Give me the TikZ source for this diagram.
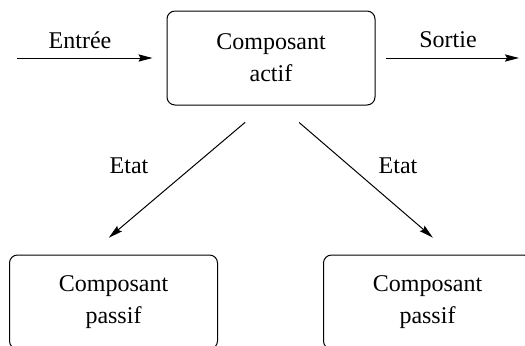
\documentclass[tikz,border=0pt]{standalone}
\usepackage{fontspec}
\setmainfont{Liberation Serif}
\usetikzlibrary{arrows.meta}
\begin{document}
\begin{tikzpicture}[x=0.5pt,y=-0.5pt,
  comp/.style={draw,line width=0.5pt,rounded corners=4pt,minimum width=104pt,minimum height=47pt,
    align=center,font=\fontsize{12}{16}\selectfont,inner sep=0pt},
  lbl/.style={font=\fontsize{12}{16}\selectfont,inner sep=0pt},
  flow/.style={line width=0.5pt,-{Stealth[length=7pt,width=3.6pt,inset=1pt]}}]
\useasboundingbox (0,0) rectangle (525,345);
\clip (0,0) rectangle (525,345);
% active component and the two passive ones
\node[comp] (top) at (271,58) {Composant\\actif};
\node[comp] (p1) at (113.5,302) {Composant\\passif};
\node[comp] (p2) at (427.5,302) {Composant\\passif};
% input and output
\coordinate (in) at (17,58);
\coordinate (out) at (519,58);
\draw[flow,shorten >=7pt] (in) -- (top.west);
\draw[flow,shorten <=5pt] (top.east) -- (out);
\node[lbl] (lin) at (80,40) {Entrée};
\node[lbl] (lout) at (448,40) {Sortie};
% state arrows
\draw[flow,shorten <=13pt,shorten >=13pt] ([xshift=-3pt]top.south) -- ([xshift=-12.25pt]p1.north);
\draw[flow,shorten <=13pt,shorten >=13pt] ([xshift=4.2pt]top.south) -- ([xshift=12.5pt]p2.north);
\node[lbl] (e1) at (129,166) {Etat};
\node[lbl] (e2) at (398,166) {Etat};
\end{tikzpicture}
\end{document}
